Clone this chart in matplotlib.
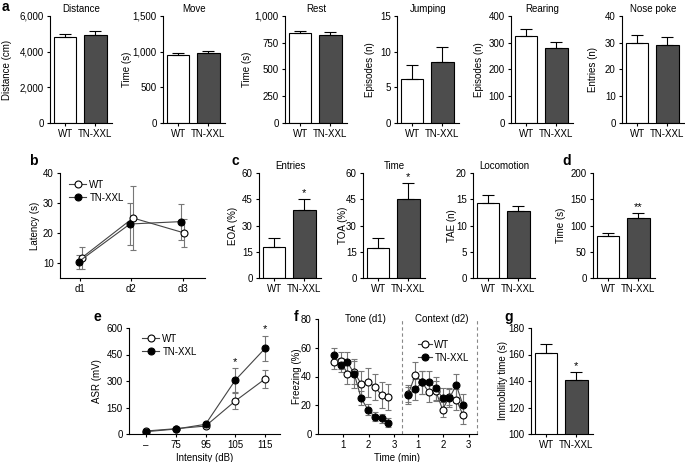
import matplotlib
matplotlib.use("Agg")
import matplotlib.pyplot as plt
import matplotlib.transforms as mtransforms
from matplotlib.ticker import FuncFormatter

plt.rcParams['font.family'] = ['Liberation Sans', 'DejaVu Sans']
plt.rcParams['font.size'] = 7
plt.rcParams['axes.linewidth'] = 0.8

# ---- data ----
groups = ["WT", "TN-XXL"]

# a: open field
distance = [4800, 4960]
distance_err = [180, 200]
move = [960, 975]
move_err = [25, 30]
rest = [838, 820]
rest_err = [25, 27]
jumping = [6.2, 8.6]
jumping_err = [2.0, 2.1]
rearing = [325, 282]
rearing_err = [25, 22]
nose_poke = [30, 29]
nose_poke_err = [3.0, 3.2]

# b: latency
days = ["d1", "d2", "d3"]
lat_wt = [11.7, 25.0, 20.0]
lat_wt_err = [3.8, 10.5, 4.8]
lat_tn = [10.4, 23.0, 23.8]
lat_tn_err = [2.3, 7.0, 6.0]

# c: open arms
eoa = [17.8, 38.6]
eoa_err = [5.1, 6.6]
toa = [17.3, 45.3]
toa_err = [5.5, 9.0]
tae = [14.2, 12.7]
tae_err = [1.6, 1.0]

# d
d_time = [80, 115]
d_time_err = [5, 9]

# e: startle
intensity = ["\u2013", "75", "95", "105", "115"]
asr_wt = [17, 30, 45, 187, 312]
asr_wt_err = [5, 5, 6, 45, 50]
asr_tn = [13, 28, 55, 305, 485]
asr_tn_err = [5, 5, 6, 68, 72]

# f: freezing
f_time = [0.62, 0.89, 1.16, 1.43, 1.70, 1.97, 2.24, 2.51, 2.78]
tone_wt = [50, 51, 42, 43, 35, 36, 33, 27, 26]
tone_wt_err = [5, 6, 7, 8, 9, 10, 9, 9, 9]
tone_tn = [55, 48, 50, 42, 25, 17, 12, 11, 8]
tone_tn_err = [5, 5, 7, 10, 5, 4, 3, 3, 3]
ctx_wt = [28, 41, 36, 29, 30, 17, 26, 24, 13]
ctx_wt_err = [6, 9, 8, 7, 7, 5, 6, 7, 6]
ctx_tn = [27, 31, 36, 36, 32, 25, 25, 34, 20]
ctx_tn_err = [6, 7, 8, 8, 8, 7, 6, 8, 8]

# g
immobility = [161, 140.5]
immobility_err = [7, 6]

# ---- figure ----
W, H = 685, 462
fig = plt.figure(figsize=(W / 100, H / 100), dpi=100)

WT_FILL = "white"
TN_FILL = "#4d4d4d"
LINE_C = "#444444"
ERR_C = "#777777"


def box(left, top, right, bottom):
    return [left / W, 1 - bottom / H, (right - left) / W, (bottom - top) / H]


def style(ax):
    for s in ["top", "right"]:
        ax.spines[s].set_visible(False)
    ax.tick_params(direction="out", length=2.5, width=0.8, pad=2, labelsize=7)


def set_ylabel(ax, text, xpx, left, right):
    # xpx = centre of the rotated label; the label anchor is its right side
    ax.set_ylabel(text, fontsize=7)
    ax.yaxis.set_label_coords((xpx + 4.5 - left) / (right - left), 0.5)


def star(ax, x, y, s="*"):
    ax.text(x, y, s, ha="center", va="bottom", fontsize=8, clip_on=False)


def bar_panel(left, top, bottom, vals, errs, ylim, yticks, ylabel, ylab_x,
              title=None, stars=None, comma=False):
    right = left + 62
    ax = fig.add_axes(box(left, top, right, bottom))
    ax.bar([0, 1], vals, width=0.75, color=[WT_FILL, TN_FILL],
           edgecolor="black", linewidth=0.8, zorder=2)
    ax.errorbar([0, 1], vals, yerr=[[0, 0], errs], fmt="none", ecolor="black",
                elinewidth=0.8, capsize=4, capthick=0.8, zorder=3)
    ax.set_xlim(-0.5, 1.55)
    ax.set_ylim(*ylim)
    ax.set_yticks(yticks)
    ax.set_xticks([0, 1])
    ax.set_xticklabels(groups)
    if comma:
        ax.yaxis.set_major_formatter(FuncFormatter(lambda v, p: f"{v:,.0f}"))
    style(ax)
    set_ylabel(ax, ylabel, ylab_x, left, right)
    if title:
        ax.set_title(title, fontsize=7, pad=3)
    if stars:
        pad = (ylim[1] - ylim[0]) * 0.01
        star(ax, 1, vals[1] + errs[1] + pad, stars)
    return ax


def panel_label(text, x, y):
    fig.text(x / W, 1 - y / H, text, fontsize=10, fontweight="bold",
             ha="left", va="top")


# row a
bar_panel(50, 16, 123, distance, distance_err, (0, 6000), [0, 2000, 4000, 6000],
          "Distance (cm)", 8, "Distance", comma=True)
bar_panel(163, 16, 123, move, move_err, (0, 1500), [0, 500, 1000, 1500],
          "Time (s)", 127, "Move", comma=True)
bar_panel(285, 16, 123, rest, rest_err, (0, 1000), [0, 250, 500, 750, 1000],
          "Time (s)", 248, "Rest", comma=True)
bar_panel(397, 16, 123, jumping, jumping_err, (0, 15), [0, 5, 10, 15],
          "Episodes (n)", 370, "Jumping")
bar_panel(511, 16, 123, rearing, rearing_err, (0, 400), [0, 100, 200, 300, 400],
          "Episodes (n)", 480, "Rearing")
bar_panel(622, 16, 123, nose_poke, nose_poke_err, (0, 40), [0, 10, 20, 30, 40],
          "Entries (n)", 593, "Nose poke")

# row c, d
bar_panel(259, 173, 278, eoa, eoa_err, (0, 60), [0, 15, 30, 45, 60],
          "EOA (%)", 233, "Entries", stars="*")
bar_panel(363, 173, 278, toa, toa_err, (0, 60), [0, 15, 30, 45, 60],
          "TOA (%)", 343, "Time", stars="*")
bar_panel(473, 173, 278, tae, tae_err, (0, 20), [0, 5, 10, 15, 20],
          "TAE (n)", 453, "Locomotion")
bar_panel(593, 173, 278, d_time, d_time_err, (0, 200), [0, 50, 100, 150, 200],
          "Time (s)", 561, stars="**")

# g
bar_panel(531, 328, 434, immobility, immobility_err, (100, 180),
          [100, 120, 140, 160, 180], "Immobility time (s)", 504, stars="*")


def line_series(ax, x, y, err, filled, label):
    ax.errorbar(x, y, yerr=err, fmt="none", ecolor=ERR_C, elinewidth=0.8,
                capsize=2.5, capthick=0.8, zorder=2)
    ln, = ax.plot(x, y, color=LINE_C, lw=0.8, marker="o", ms=5,
                  mfc="black" if filled else "white", mec="black", mew=0.8,
                  label=label, zorder=3)
    return ln


# b
ax_b = fig.add_axes(box(60, 173, 205, 278))
xb = list(range(len(days)))
h1 = line_series(ax_b, [v + 0.03 for v in xb], lat_wt, lat_wt_err, False, "WT")
h2 = line_series(ax_b, [v - 0.03 for v in xb], lat_tn, lat_tn_err, True, "TN-XXL")
ax_b.set_xlim(-0.39, 2.43)
ax_b.set_ylim(5, 40)
ax_b.set_yticks([10, 20, 30, 40])
ax_b.set_xticks(xb)
ax_b.set_xticklabels(days)
style(ax_b)
set_ylabel(ax_b, "Latency (s)", 35, 60, 205)
ax_b.legend(handles=[h1, h2], loc="upper left", frameon=False, fontsize=7,
            handlelength=1.8, handletextpad=0.3, labelspacing=0.3,
            borderaxespad=0, bbox_to_anchor=(65 / W, 1 - 176 / H),
            bbox_transform=fig.transFigure)

# e
ax_e = fig.add_axes(box(129, 328, 280, 434))
xe = list(range(len(intensity)))
h1 = line_series(ax_e, xe, asr_wt, asr_wt_err, False, "WT")
h2 = line_series(ax_e, xe, asr_tn, asr_tn_err, True, "TN-XXL")
ax_e.set_xlim(-0.57, 4.5)
ax_e.set_ylim(0, 600)
ax_e.set_yticks([0, 150, 300, 450, 600])
ax_e.set_xticks(xe)
ax_e.set_xticklabels(intensity)
style(ax_e)
set_ylabel(ax_e, "ASR (mV)", 98, 129, 280)
ax_e.set_xlabel("Intensity (dB)", fontsize=7, labelpad=2)
for i in (3, 4):
    star(ax_e, xe[i], asr_tn[i] + asr_tn_err[i] + 6)
ax_e.legend(handles=[h1, h2], loc="upper left", frameon=False, fontsize=7,
            handlelength=1.8, handletextpad=0.3, labelspacing=0.3,
            borderaxespad=0, bbox_to_anchor=(138 / W, 1 - 330 / H),
            bbox_transform=fig.transFigure)

# f
OFF = 2.95
ax_f = fig.add_axes(box(318, 319, 477, 434))
xc = [t + OFF for t in f_time]
line_series(ax_f, f_time, tone_wt, tone_wt_err, False, None)
line_series(ax_f, f_time, tone_tn, tone_tn_err, True, None)
h1 = line_series(ax_f, xc, ctx_wt, ctx_wt_err, False, "WT")
h2 = line_series(ax_f, xc, ctx_tn, ctx_tn_err, True, "TN-XXL")
ax_f.set_xlim(0, 6.28)
ax_f.set_ylim(0, 80)
ax_f.set_yticks([0, 20, 40, 60, 80])
ax_f.set_xticks([1, 2, 3, 1 + OFF, 2 + OFF, 3 + OFF])
ax_f.set_xticklabels(["1", "2", "3", "1", "2", "3"])
for xv in (3.32, 6.28):
    ax_f.axvline(xv, color="#888888", lw=0.8, ls=(0, (3, 2.5)), clip_on=False)
style(ax_f)
set_ylabel(ax_f, "Freezing (%)", 298, 318, 477)
ax_f.set_xlabel("Time (min)", fontsize=7, labelpad=2)
trans = mtransforms.blended_transform_factory(ax_f.transData, ax_f.transAxes)
ax_f.text(1.87, 1.0, "Tone (d1)", transform=trans, ha="center", va="center", fontsize=7)
ax_f.text(4.9, 1.0, "Context (d2)", transform=trans, ha="center", va="center", fontsize=7)
ax_f.legend(handles=[h1, h2], loc="upper left", frameon=False, fontsize=7,
            handlelength=1.4, handletextpad=0.3, labelspacing=0.3,
            borderaxespad=0, bbox_to_anchor=(414 / W, 1 - 336 / H),
            bbox_transform=fig.transFigure)

# panel letters
panel_label("a", 2, 0)
panel_label("b", 29, 154)
panel_label("c", 231, 154)
panel_label("d", 562, 154)
panel_label("e", 93, 310)
panel_label("f", 294, 310)
panel_label("g", 504, 310)

fig.savefig("out.png", dpi=100)
